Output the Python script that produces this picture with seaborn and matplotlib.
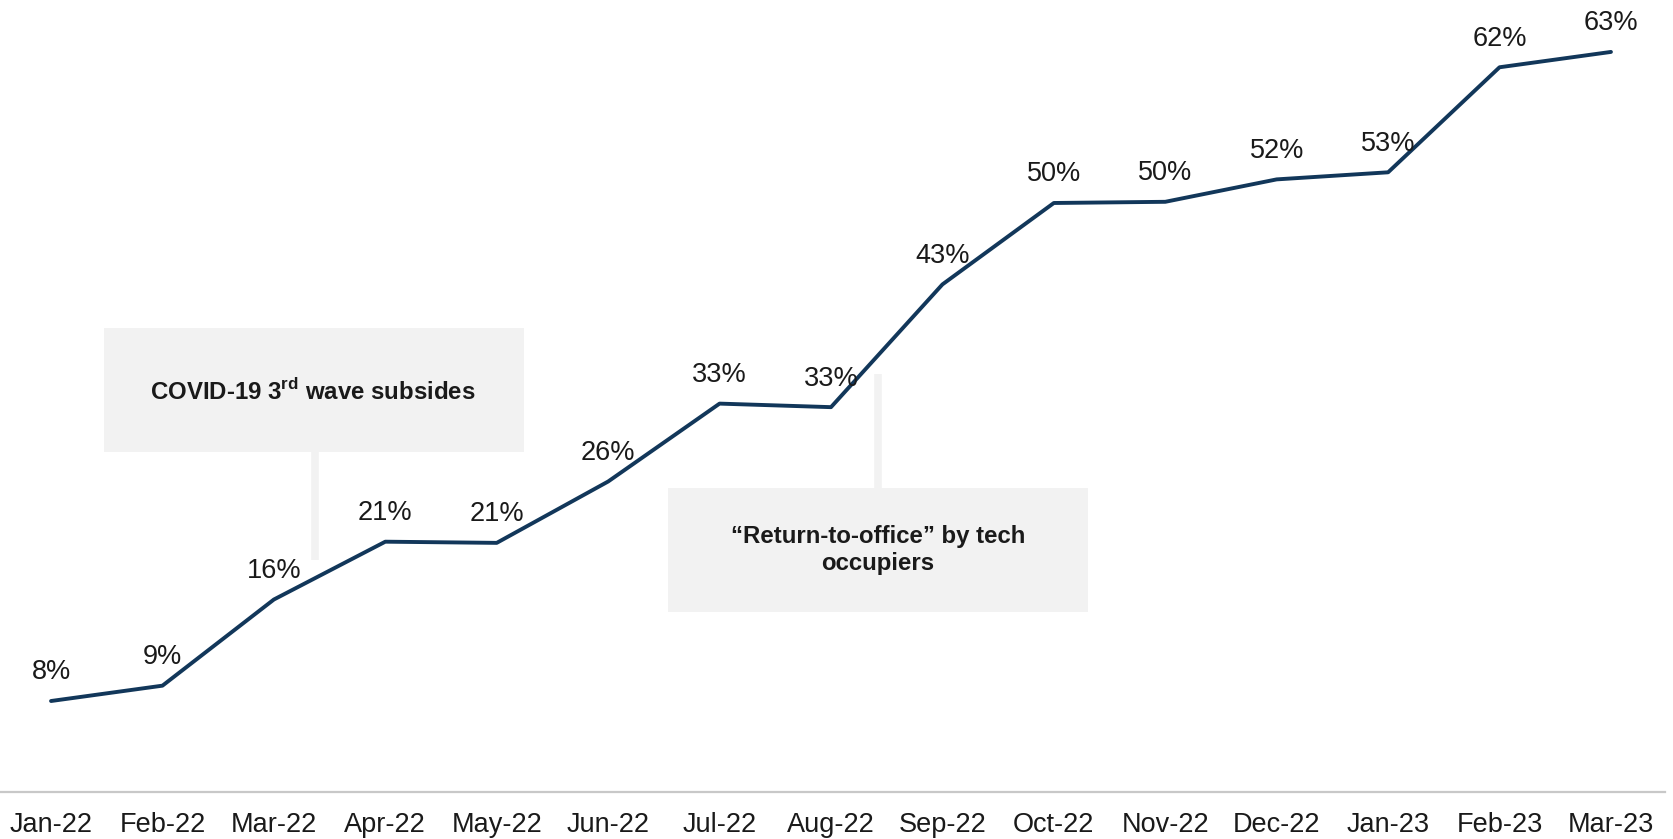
import matplotlib
matplotlib.use("Agg")
import matplotlib.pyplot as plt
import seaborn as sns
import pandas as pd
from matplotlib.patches import Rectangle

months = ["Jan-22", "Feb-22", "Mar-22", "Apr-22", "May-22", "Jun-22", "Jul-22", "Aug-22",
          "Sep-22", "Oct-22", "Nov-22", "Dec-22", "Jan-23", "Feb-23", "Mar-23"]
values = [8.0, 9.3, 16.6, 21.5, 21.4, 26.6, 33.2, 32.9, 43.3, 50.2, 50.3, 52.2, 52.8, 61.7, 63.0]
value_labels = ["8%", "9%", "16%", "21%", "21%", "26%", "33%", "33%", "43%", "50%", "50%",
                "52%", "53%", "62%", "63%"]

sns.set_theme(style="white")
plt.rcParams["font.family"] = ["Liberation Sans", "DejaVu Sans"]
plt.rcParams["mathtext.fontset"] = "custom"
plt.rcParams["mathtext.rm"] = "Liberation Sans"
plt.rcParams["mathtext.bf"] = "Liberation Sans:bold"

df = pd.DataFrame({"idx": range(len(months)), "value": values})

fig = plt.figure(figsize=(16.74, 8.39), dpi=100)
ax = fig.add_axes([0.0, (839 - 792) / 839, 1665 / 1674, 792 / 839])

line_color = "#12375A"
box_color = "#F2F2F2"

# annotation boxes and connectors (behind line)
ax.add_patch(Rectangle((0.476, 29.1), 4.245 - 0.476, 39.6 - 29.1, facecolor=box_color,
                       edgecolor="none", zorder=0))
ax.plot([2.369, 2.369], [29.1, 19.95], color=box_color, lw=5.5, solid_capstyle="butt", zorder=0)
ax.text(2.35, 34.2, r"COVID-19 $\mathbf{3}^{\mathbf{rd}}$ wave subsides", ha="center", va="center",
        fontsize=17.3, fontweight="bold", color="#1a1a1a", zorder=1)

ax.add_patch(Rectangle((5.537, 15.54), 9.306 - 5.537, 26.05 - 15.54, facecolor=box_color,
                       edgecolor="none", zorder=0))
ax.plot([7.42, 7.42], [35.7, 26.05], color=box_color, lw=5.5, solid_capstyle="butt", zorder=0)
ax.text(7.42, 20.8, "\u201cReturn-to-office\u201d by tech\noccupiers", ha="center", va="center",
        fontsize=17.3, fontweight="bold", color="#1a1a1a", linespacing=1.25, zorder=1)

sns.lineplot(data=df, x="idx", y="value", ax=ax, color=line_color, linewidth=2.8, zorder=3)

for i, (v, lab) in enumerate(zip(values, value_labels)):
    ax.annotate(lab, (i, v), xytext=(0, 15.5), textcoords="offset points", ha="center",
                va="baseline", fontsize=19.5, color="#1a1a1a", zorder=4)

ax.set_xlim(-0.458, 14.485)
ax.set_ylim(0.29, 67.4)
ax.set_xticks(range(len(months)))
ax.set_xticklabels(months, fontsize=19.5, color="#1a1a1a")
ax.set_yticks([])
ax.set_xlabel("")
ax.set_ylabel("")
ax.tick_params(axis="x", length=0, pad=14.5)
for s in ["left", "top", "right"]:
    ax.spines[s].set_visible(False)
ax.spines["bottom"].set_color("#C8C8C8")
ax.spines["bottom"].set_linewidth(1.6)

fig.savefig("out.png", dpi=100)
